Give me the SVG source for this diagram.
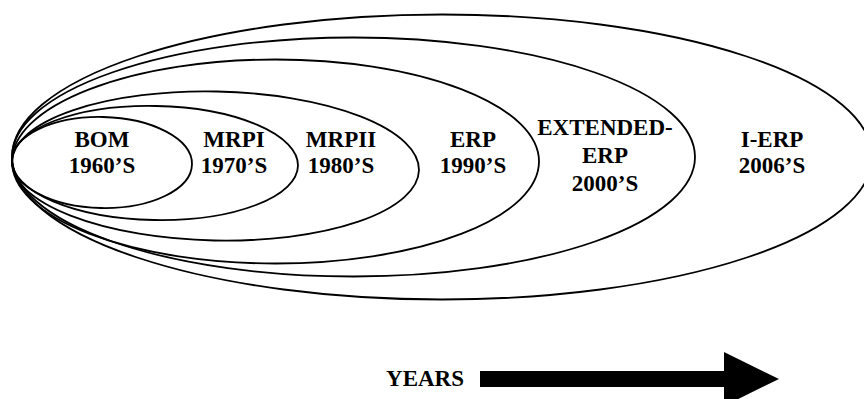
<svg xmlns="http://www.w3.org/2000/svg" width="864" height="399" viewBox="0 0 864 399">
<style>
.e{fill:none;stroke:#000;stroke-width:1.8}
.t{font-family:"Liberation Serif","Times New Roman",serif;font-weight:bold;font-size:23px;fill:#000;text-anchor:middle}
</style>
<rect width="864" height="399" fill="#fff"/>
<g id="ierp">
<ellipse class="e" cx="442" cy="157" rx="430" ry="142.5"/>
<text class="t" x="772" y="147">I-ERP</text>
<text class="t" x="772" y="173">2006’S</text>
</g>
<g id="extended">
<ellipse class="e" cx="353.5" cy="157" rx="341.5" ry="119.5"/>
<text class="t" x="605" y="135">EXTENDED-</text>
<text class="t" x="605" y="163">ERP</text>
<text class="t" x="605" y="191">2000’S</text>
</g>
<g id="erp">
<ellipse class="e" cx="275.5" cy="161.5" rx="263.5" ry="102"/>
<text class="t" x="473" y="147">ERP</text>
<text class="t" x="473" y="173">1990’S</text>
</g>
<g id="mrpii">
<ellipse class="e" cx="215.5" cy="166" rx="203.5" ry="74.5" transform="rotate(1.2 215.5 166)"/>
<text class="t" x="341" y="147">MRPII</text>
<text class="t" x="341" y="173">1980’S</text>
</g>
<g id="mrpi">
<ellipse class="e" cx="155" cy="163" rx="143" ry="57" transform="rotate(1.1 155 163)"/>
<text class="t" x="234" y="147">MRPI</text>
<text class="t" x="234" y="173">1970’S</text>
</g>
<g id="bom">
<ellipse class="e" cx="102" cy="162.5" rx="90" ry="45.5" transform="rotate(1.2 102 162.5)"/>
<text class="t" x="102" y="147">BOM</text>
<text class="t" x="102" y="173">1960’S</text>
</g>
<g id="years">
<text class="t" x="425" y="386">YEARS</text>
<polygon points="480,371 724,371 724,352 779,379 724,406 724,387 480,387" fill="#000"/>
</g>
</svg>
